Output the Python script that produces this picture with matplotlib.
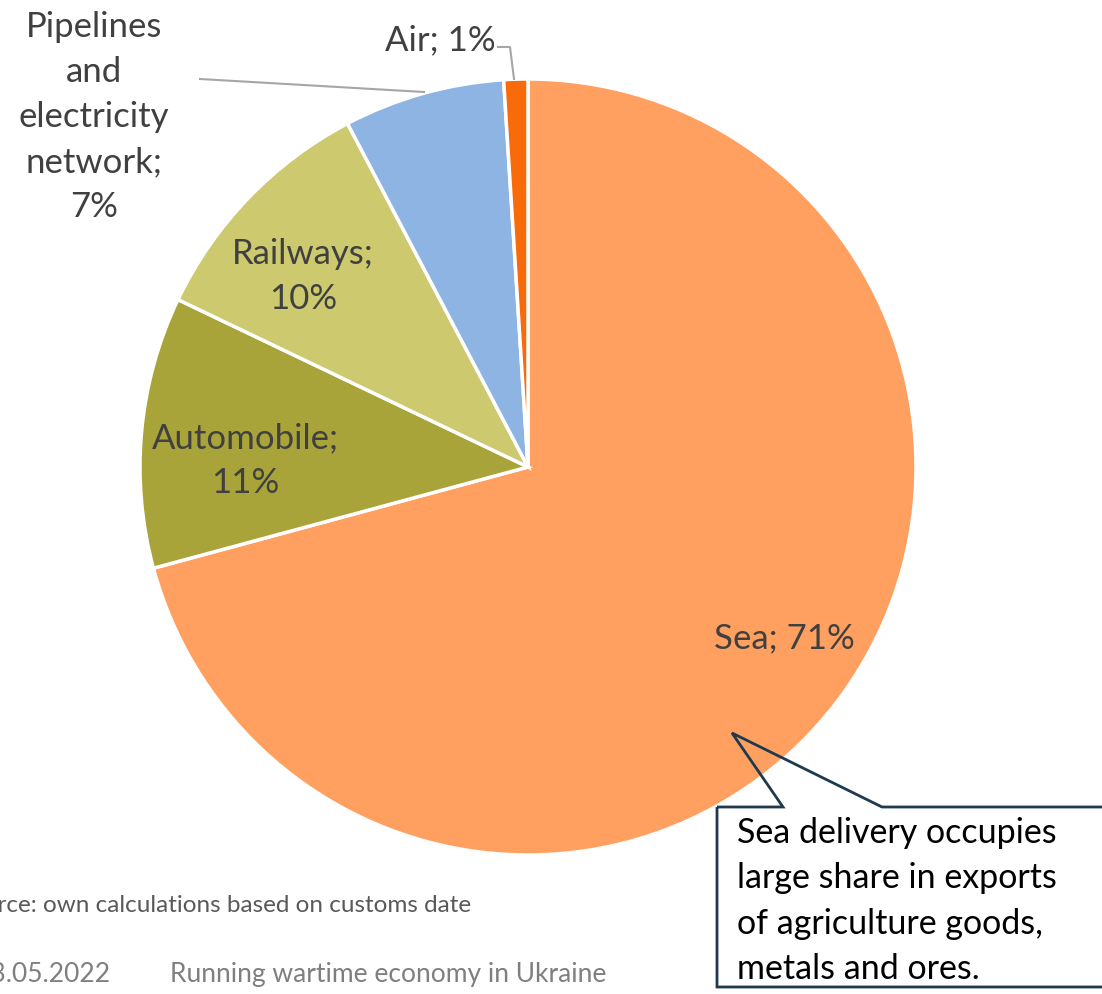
import matplotlib
matplotlib.use('Agg')
import matplotlib.pyplot as plt
from matplotlib.patches import Polygon

# data (share of exports by transport mode, %)
modes = ['Sea', 'Automobile', 'Railways', 'Pipelines and electricity network', 'Air']
shares = [70.8, 11.3, 10.2, 6.7, 1.0]
colors = ['#FFA061', '#A9A43A', '#CCC96E', '#8DB4E2', '#F96B0A']
pct_labels = ['71%', '11%', '10%', '7%', '1%']

plt.rcParams['font.family'] = ['Lato', 'DejaVu Sans']

W, H = 1102, 995
fig = plt.figure(figsize=(W / 100, H / 100), dpi=100)
ax = fig.add_axes([0, 0, 1, 1])

cx, cy, r = 528, H - 468, 388
ax.pie(shares, colors=colors, startangle=90, counterclock=False,
       center=(cx, cy), radius=r, frame=True,
       wedgeprops=dict(edgecolor='white', linewidth=2.5))
ax.set_xlim(0, W)
ax.set_ylim(0, H)
ax.set_aspect('equal')
ax.axis('off')

lab_col = '#404040'
fs = 25
ls = 1.5
ax.text(784, H - 638, 'Sea; ' + pct_labels[0], fontsize=fs, color=lab_col, ha='center', va='center')
ax.text(245, H - 461, 'Automobile;\n' + pct_labels[1], fontsize=fs, color=lab_col, ha='center', va='center', linespacing=ls)
ax.text(303, H - 277, 'Railways;\n' + pct_labels[2], fontsize=fs, color=lab_col, ha='center', va='center', linespacing=ls)
ax.text(94, H - 117, 'Pipelines\nand\nelectricity\nnetwork;\n' + pct_labels[3], fontsize=fs, color=lab_col,
        ha='center', va='center', linespacing=ls)
ax.text(440, H - 40, 'Air; ' + pct_labels[4], fontsize=fs, color=lab_col, ha='center', va='center')

# leader lines
ax.plot([200, 424], [H - 80, H - 93], color='#A6A6A6', lw=1.5)
ax.plot([498, 510, 514], [H - 48, H - 48, H - 80], color='#A6A6A6', lw=1.5)

# callout
edge = '#1F3A4D'
pts = [(717, H - 808), (783, H - 808), (732, H - 734), (882, H - 808),
       (W + 5, H - 808), (W + 5, H - 988), (717, H - 988)]
ax.add_patch(Polygon(pts, closed=True, facecolor='none', edgecolor=edge, lw=2, zorder=5))
ax.text(737, H - 901, 'Sea delivery occupies\nlarge share in exports\nof agriculture goods,\nmetals and ores.',
        fontsize=24.5, color='black', ha='left', va='center', linespacing=1.52, zorder=6)

# footer (cut at the left edge as in the slide)
ax.text(471, H - 906, 'Source: own calculations based on customs date', fontsize=17.5, color='#595959',
        ha='right', va='center')
ax.text(111, H - 975, '23.05.2022', fontsize=19, color='#7F7F7F', ha='right', va='center')
ax.text(170, H - 975, 'Running wartime economy in Ukraine', fontsize=19, color='#7F7F7F', ha='left', va='center')

fig.savefig('out.png', dpi=100)
